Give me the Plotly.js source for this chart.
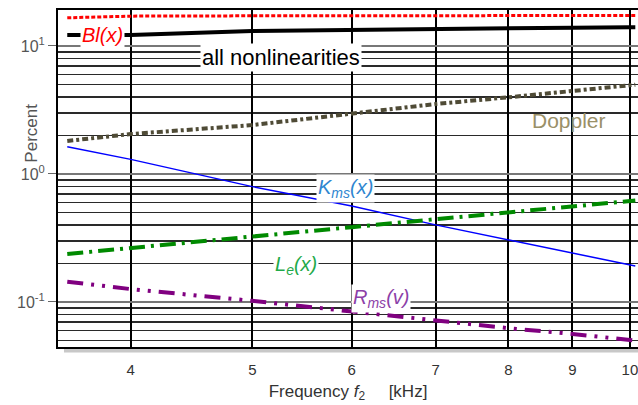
<!DOCTYPE html>
<html>
<head>
<meta charset="utf-8">
<script src="https://cdn.plot.ly/plotly-3.0.1.min.js"></script>
<style>
  html, body { margin: 0; padding: 0; background: #fff; }
  #chart { width: 638px; height: 405px; }
</style>
</head>
<body>
<div id="chart"></div>
<script>
// Frequency f2 in kHz
const freq = [3.56, 4, 5, 6, 7, 8, 9, 10, 10.1];

// Distortion contributions in percent
const blX      = [16.6, 17.1, 17.2, 17.2, 17.2, 17.2, 17.25, 17.3, 17.3];
const allNonlin = [12.2, 12.2, 13.1, 13.4, 13.6, 13.8, 13.9, 14.0, 14.0];
const doppler  = [1.81, 2.05, 2.41, 2.98, 3.52, 3.97, 4.48, 4.93, 4.98];
const kmsX     = [1.63, 1.30, 0.796, 0.562, 0.40, 0.305, 0.243, 0.195, 0.191];
const leX      = [0.237, 0.263, 0.324, 0.384, 0.443, 0.499, 0.562, 0.615, 0.62];
const rmsV     = [0.144, 0.126, 0.102, 0.084, 0.072, 0.0624, 0.0562, 0.0505, 0.050];

// Axis ticks
const xTicks = [4, 5, 6, 7, 8, 9, 10];
const yTicks = [0.1, 1, 10];
const yTickText = ['10<sup>-1</sup>', '10<sup>0</sup>', '10<sup>1</sup>'];
const yMinor = [0.05, 0.06, 0.07, 0.08, 0.09,
                0.2, 0.3, 0.4, 0.5, 0.6, 0.7, 0.8, 0.9,
                2, 3, 4, 5, 6, 7, 8, 9];

const FONT = 'Liberation Sans, Arial, sans-serif';

function series(y, color, width, dash) {
  return {
    x: freq, y: y, type: 'scatter', mode: 'lines',
    line: { color: color, width: width, dash: dash },
    hoverinfo: 'skip', showlegend: false
  };
}

const data = [
  series(allNonlin, '#000000', 4, 'solid'),
  series(blX, '#ff0000', 3, '4px,2px'),
  series(doppler, '#4f4b36', 4, '6px,3px,3px,3px'),
  series(kmsX, '#0000ff', 1.5, 'solid'),
  series(leX, '#008a00', 4, '16px,6px,3px,6px'),
  series(rmsV, '#800080', 4, '16px,8px,3px,8px,3px,8px')
];

function label(text, fx, py, color, size, italic) {
  return {
    x: Math.log10(fx), y: Math.log10(py), xref: 'x', yref: 'y',
    text: italic ? '<i>' + text + '</i>' : text,
    showarrow: false, bgcolor: italic === null ? 'rgba(0,0,0,0)' : '#ffffff',
    borderpad: 1,
    font: { family: FONT, size: size, color: color }
  };
}

const annotations = [
  label('Bl(x)', 3.80, 12.2, '#ff0000', 20, true),
  label('all nonlinearities', 5.27, 8.2, '#000000', 22, false),
  label('Doppler', 8.95, 2.6, '#9a9068', 21, null),
  label('K<sub>ms</sub>(x)', 5.93, 0.764, '#2f86d0', 20, true),
  label('L<sub>e</sub>(x)', 5.42, 0.191, '#1faa4a', 20, true),
  label('R<sub>ms</sub>(v)', 6.33, 0.107, '#8c3fa8', 20, true),
  {
    x: -0.067, y: 0.635, xref: 'paper', yref: 'paper',
    text: 'Percent', textangle: -90, showarrow: false,
    font: { family: FONT, size: 17, color: '#555' }
  }
];

const layout = {
  width: 638, height: 405,
  margin: { l: 58, r: 0, t: 10, b: 58 },
  paper_bgcolor: '#ffffff', plot_bgcolor: '#ffffff',
  font: { family: FONT },
  xaxis: {
    type: 'log',
    range: [Math.log10(3.5), Math.log10(10.15)],
    tickmode: 'array', tickvals: xTicks, ticktext: xTicks.map(String),
    ticks: '', ticklabelstandoff: 8, ticklabeloverflow: 'allow',
    tickfont: { family: FONT, size: 15, color: '#333' },
    showgrid: true, gridcolor: '#000000', gridwidth: 2,
    showline: true, linecolor: '#000000', linewidth: 2, mirror: true,
    zeroline: false,
    title: {
      text: 'Frequency <i>f</i><sub>2</sub>&nbsp;&nbsp;&nbsp;&nbsp;&nbsp;[kHz]',
      font: { family: FONT, size: 17, color: '#333' },
      standoff: 8
    }
  },
  yaxis: {
    type: 'log',
    range: [-1.352, 1.281],
    tickmode: 'array', tickvals: yTicks, ticktext: yTickText,
    ticks: 'outside', ticklen: 8, tickwidth: 1, tickcolor: '#666',
    tickfont: { family: FONT, size: 16, color: '#555' },
    showgrid: true, gridcolor: '#777777', gridwidth: 2,
    minor: {
      tickmode: 'array', tickvals: yMinor, ticks: '',
      showgrid: true, gridcolor: '#2a2a2a', gridwidth: 1.5
    },
    showline: true, linecolor: '#000000', linewidth: 2,
    zeroline: false
  },
  shapes: [
    {
      type: 'rect', xref: 'paper', yref: 'paper',
      x0: 0.0103, x1: 1, y0: -0.016, y1: -0.003,
      fillcolor: '#c8c8c8', line: { width: 0 }, layer: 'below'
    }
  ],
  annotations: annotations
};

Plotly.newPlot('chart', data, layout, { staticPlot: true, displayModeBar: false });
</script>
</body>
</html>
